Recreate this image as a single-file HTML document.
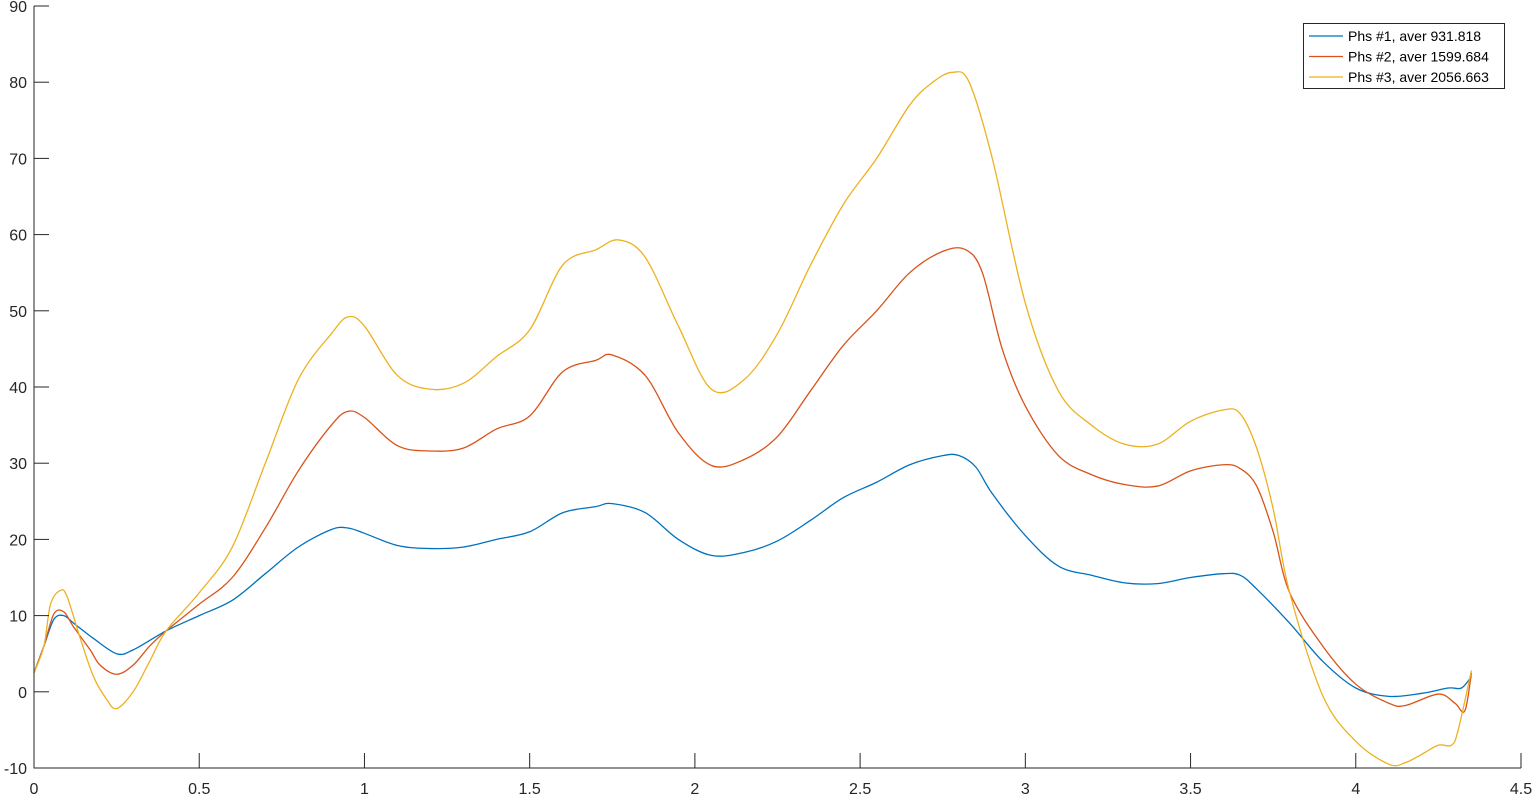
<!DOCTYPE html>
<html><head><meta charset="utf-8"><style>
html,body{margin:0;padding:0;background:#fff;}
svg{display:block;font-family:"Liberation Sans",Arial,sans-serif;}
</style></head><body>
<svg id="chart" width="1536" height="800"></svg>
<script>
const xTicks=[0,0.5,1,1.5,2,2.5,3,3.5,4,4.5];
const xTickLabels=["0","0.5","1","1.5","2","2.5","3","3.5","4","4.5"];
const yTicks=[-10,0,10,20,30,40,50,60,70,80,90];
const yTickLabels=["-10","0","10","20","30","40","50","60","70","80","90"];
const seriesNames=["Phs #1, aver 931.818","Phs #2, aver 1599.684","Phs #3, aver 2056.663"];
const x1=[0,0.03,0.06,0.09,0.12,0.18,0.25,0.3,0.4,0.5,0.6,0.7,0.8,0.9,0.95,1.0,1.1,1.2,1.3,1.4,1.5,1.6,1.7,1.75,1.85,1.95,2.05,2.15,2.25,2.35,2.45,2.55,2.65,2.75,2.8,2.85,2.9,3.0,3.1,3.2,3.3,3.4,3.5,3.6,3.65,3.7,3.8,3.9,4.0,4.1,4.2,4.28,4.32,4.35];
const y1=[2.5,6,9.5,10,9,7,5,5.5,8,10,12,15.5,19,21.3,21.5,20.8,19.2,18.8,19,20,21,23.5,24.3,24.7,23.5,20,17.9,18.3,19.8,22.5,25.5,27.5,29.8,31,31,29.5,26,20.5,16.5,15.3,14.3,14.2,15,15.5,15.3,13.5,9,4,0.5,-0.6,-0.2,0.5,0.5,2];
const x2=[0,0.03,0.06,0.09,0.12,0.17,0.2,0.25,0.3,0.35,0.4,0.5,0.6,0.7,0.8,0.9,0.95,1.0,1.1,1.2,1.3,1.4,1.5,1.6,1.7,1.75,1.85,1.95,2.05,2.15,2.25,2.35,2.45,2.55,2.65,2.75,2.82,2.87,2.93,3.0,3.1,3.2,3.3,3.4,3.5,3.6,3.65,3.7,3.75,3.8,3.9,4.0,4.1,4.15,4.25,4.3,4.33,4.35];
const y2=[2.5,6,10.2,10.5,8.5,5.5,3.5,2.3,3.5,6,8,11.5,15,21.5,29,35,36.8,36,32.3,31.6,32,34.5,36.2,42,43.5,44.2,41.5,34,29.7,30.5,33.5,39.5,45.5,50,55,57.8,58,55,45,37.5,31,28.5,27.2,27,29,29.8,29.3,27,21,13,6,1,-1.5,-1.8,-0.3,-1.5,-2.5,2.5];
const x3=[0,0.03,0.05,0.08,0.1,0.14,0.18,0.22,0.25,0.3,0.35,0.4,0.5,0.6,0.7,0.8,0.9,0.95,1.0,1.1,1.2,1.3,1.4,1.5,1.6,1.7,1.77,1.85,1.95,2.05,2.15,2.25,2.35,2.45,2.55,2.65,2.72,2.78,2.83,2.9,3.0,3.1,3.2,3.3,3.4,3.5,3.6,3.65,3.7,3.75,3.8,3.9,4.0,4.1,4.15,4.2,4.25,4.29,4.31,4.35];
const y3=[2.5,6,11.5,13.3,12.5,7,2,-1,-2.2,0,4,8,13,19,30,41,47,49.2,48,41.5,39.7,40.5,44,47.5,56,58,59.3,57,48,39.7,41,47,56,64,70,77,80,81.3,80,70,51,39.5,35,32.5,32.5,35.5,37,36.5,32,24,13,-0.5,-6.5,-9.5,-9.3,-8.2,-7,-7,-5,2.8];

const L=34,R=1521,T=6,B=768;
const xs=v=>L+(v-0)/(4.5)*(R-L);
const ys=v=>B-(v+10)/100*(B-T);
const NS="http://www.w3.org/2000/svg";
const svg=document.getElementById('chart');
function mk(tag,attrs,parent){const e=document.createElementNS(NS,tag);for(const k in attrs)e.setAttribute(k,attrs[k]);(parent||svg).appendChild(e);return e;}
function pathFor(xa,ya){
  const p=xa.map((x,i)=>[xs(x),ys(ya[i])]);
  let d=`M${p[0][0]},${p[0][1]}`;
  for(let i=0;i<p.length-1;i++){
    const p0=p[Math.max(0,i-1)],p1=p[i],p2=p[i+1],p3=p[Math.min(p.length-1,i+2)];
    const c1=[p1[0]+(p2[0]-p0[0])/6,p1[1]+(p2[1]-p0[1])/6];
    const c2=[p2[0]-(p3[0]-p1[0])/6,p2[1]-(p3[1]-p1[1])/6];
    d+=` C${c1[0]},${c1[1]} ${c2[0]},${c2[1]} ${p2[0]},${p2[1]}`;
  }
  return d;
}
const colors=["#0072BD","#D95319","#EDB120"];
const xs_=[x1,x2,x3],ys_=[y1,y2,y3];
for(let s=0;s<3;s++){
  const p=mk('path',{d:pathFor(xs_[s],ys_[s]),fill:'none',stroke:colors[s],'stroke-width':1.3});
  
  
}
const ax=mk('path',{d:`M${L},${T} V${B} H${R}`,fill:'none',stroke:'#262626','stroke-width':1});


xTicks.forEach((t,i)=>{
  const x=xs(t);
  const tk=mk('line',{x1:x,x2:x,y1:B,y2:B-15,stroke:'#262626'});
  
  
  const tx=mk('text',{x:x,y:B+26,'text-anchor':'middle','font-size':16,fill:'#262626'});
  tx.textContent=xTickLabels[i];
  
  
});
yTicks.forEach((t,i)=>{
  const y=ys(t);
  const tk=mk('line',{x1:L,x2:L+15,y1:y,y2:y,stroke:'#262626'});
  
  
  const tx=mk('text',{x:L-7,y:y+6,'text-anchor':'end','font-size':16,fill:'#262626'});
  tx.textContent=yTickLabels[i];
  
  
});
const lg=mk('g',{});


mk('rect',{x:1303.5,y:23.5,width:201,height:65,fill:'#fff',stroke:'#262626','stroke-width':1},lg);
seriesNames.forEach((n,i)=>{
  const y=36+i*20.5;
  const g=mk('g',{},lg);
  
  
  mk('line',{x1:1309,x2:1343,y1:y,y2:y,stroke:colors[i],'stroke-width':1.3},g);
  const t=mk('text',{x:1348,y:y+5,'font-size':14,fill:'#000'},g);
  t.textContent=n;
});
</script>
</body></html>
